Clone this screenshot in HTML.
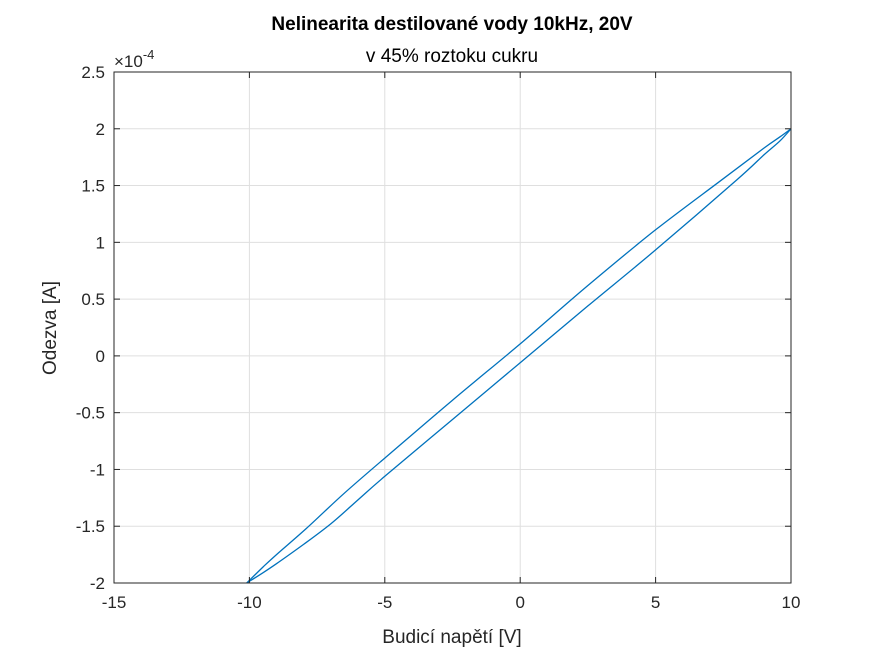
<!DOCTYPE html>
<html><head><meta charset="utf-8"><style>
body{margin:0;background:#fff;width:875px;height:656px;overflow:hidden;font-family:"Liberation Sans",sans-serif}
</style></head><body>
<svg width="875" height="656" font-family="Liberation Sans, sans-serif">
<g id="grid"></g>
<g id="plot"></g>
<g id="axes"></g>
<text x="452" y="30" text-anchor="middle" font-size="19" font-weight="bold" fill="#000">Nelinearita destilované vody 10kHz, 20V</text>
<text x="452" y="62" text-anchor="middle" font-size="19" fill="#000">v 45% roztoku cukru</text>
<text x="452" y="643" text-anchor="middle" font-size="19" fill="#262626">Budicí napětí [V]</text>
<text transform="translate(56,328) rotate(-90)" text-anchor="middle" font-size="19" fill="#262626">Odezva [A]</text>
<text x="114" y="67" font-size="17" fill="#262626">×10<tspan dy="-8" font-size="13">-4</tspan></text>
</svg>
<script>
const xTicks=[-15,-10,-5,0,5,10];
const yTicks=[-2,-1.5,-1,-0.5,0,0.5,1,1.5,2,2.5];
const upperX=[-10.1,-9.5,-9,-7.9,-6.5,-5,-2.5,0,2.5,5,7.5,9,9.6,10];
const upperY=[-2.0,-1.86,-1.75,-1.52,-1.21,-0.9,-0.39,0.106,0.62,1.11,1.56,1.83,1.93,2.0];
const lowerX=[-10.1,-9.5,-9,-8,-7,-6,-5,-2.5,0,2.5,5,8,9,9.6,10];
const lowerY=[-2.0,-1.91,-1.83,-1.66,-1.48,-1.27,-1.06,-0.56,-0.06,0.44,0.933,1.55,1.77,1.895,2.0];
const X0=114,X1=791,Y0=583,Y1=72;
const sx=v=>X0+(v-(-15))/(10-(-15))*(X1-X0);
const sy=v=>Y0-(v-(-2))/(2.5-(-2))*(Y0-Y1);
const NS='http://www.w3.org/2000/svg';
function mk(t,a,p){const e=document.createElementNS(NS,t);for(const k in a)e.setAttribute(k,a[k]);p.appendChild(e);return e;}
const grid=document.getElementById('grid'),axes=document.getElementById('axes'),plot=document.getElementById('plot');
mk('rect',{x:X0,y:Y1,width:X1-X0,height:Y0-Y1,fill:'#fff'},grid);
xTicks.forEach(t=>{const x=sx(t);
const g=mk('line',{x1:x,x2:x,y1:Y1,y2:Y0,stroke:'#dfdfdf'},grid);


mk('line',{x1:x,x2:x,y1:Y0,y2:Y0-6,stroke:'#262626'},axes);
mk('line',{x1:x,x2:x,y1:Y1,y2:Y1+6,stroke:'#262626'},axes);
const tx=mk('text',{x:x,y:Y0+25,'text-anchor':'middle','font-size':17,fill:'#262626'},axes);tx.textContent=t;

});
yTicks.forEach(t=>{const y=sy(t);
const g=mk('line',{x1:X0,x2:X1,y1:y,y2:y,stroke:'#dfdfdf'},grid);


mk('line',{x1:X0,x2:X0+6,y1:y,y2:y,stroke:'#262626'},axes);
mk('line',{x1:X1,x2:X1-6,y1:y,y2:y,stroke:'#262626'},axes);
const tx=mk('text',{x:X0-9,y:y+6,'text-anchor':'end','font-size':17,fill:'#262626'},axes);tx.textContent=t;

});
mk('rect',{x:X0,y:Y1,width:X1-X0,height:Y0-Y1,fill:'none',stroke:'#262626'},axes);
function line(xs,ys,name){
const P=xs.map((v,i)=>[sx(v),sy(ys[i])]);
let d='M'+P[0][0].toFixed(1)+','+P[0][1].toFixed(1);
for(let i=0;i<P.length-1;i++){
const p0=P[Math.max(0,i-1)],p1=P[i],p2=P[i+1],p3=P[Math.min(P.length-1,i+2)];
const c1=[p1[0]+(p2[0]-p0[0])/6,p1[1]+(p2[1]-p0[1])/6];
const c2=[p2[0]-(p3[0]-p1[0])/6,p2[1]-(p3[1]-p1[1])/6];
d+='C'+c1[0].toFixed(1)+','+c1[1].toFixed(1)+' '+c2[0].toFixed(1)+','+c2[1].toFixed(1)+' '+p2[0].toFixed(1)+','+p2[1].toFixed(1);}
const p=mk('path',{d:d,fill:'none',stroke:'#0072bd','stroke-width':1.3,'stroke-linejoin':'round'},plot);

}
line(upperX,upperY,'upper-branch');
line(lowerX,lowerY,'lower-branch');
</script>
</body></html>
